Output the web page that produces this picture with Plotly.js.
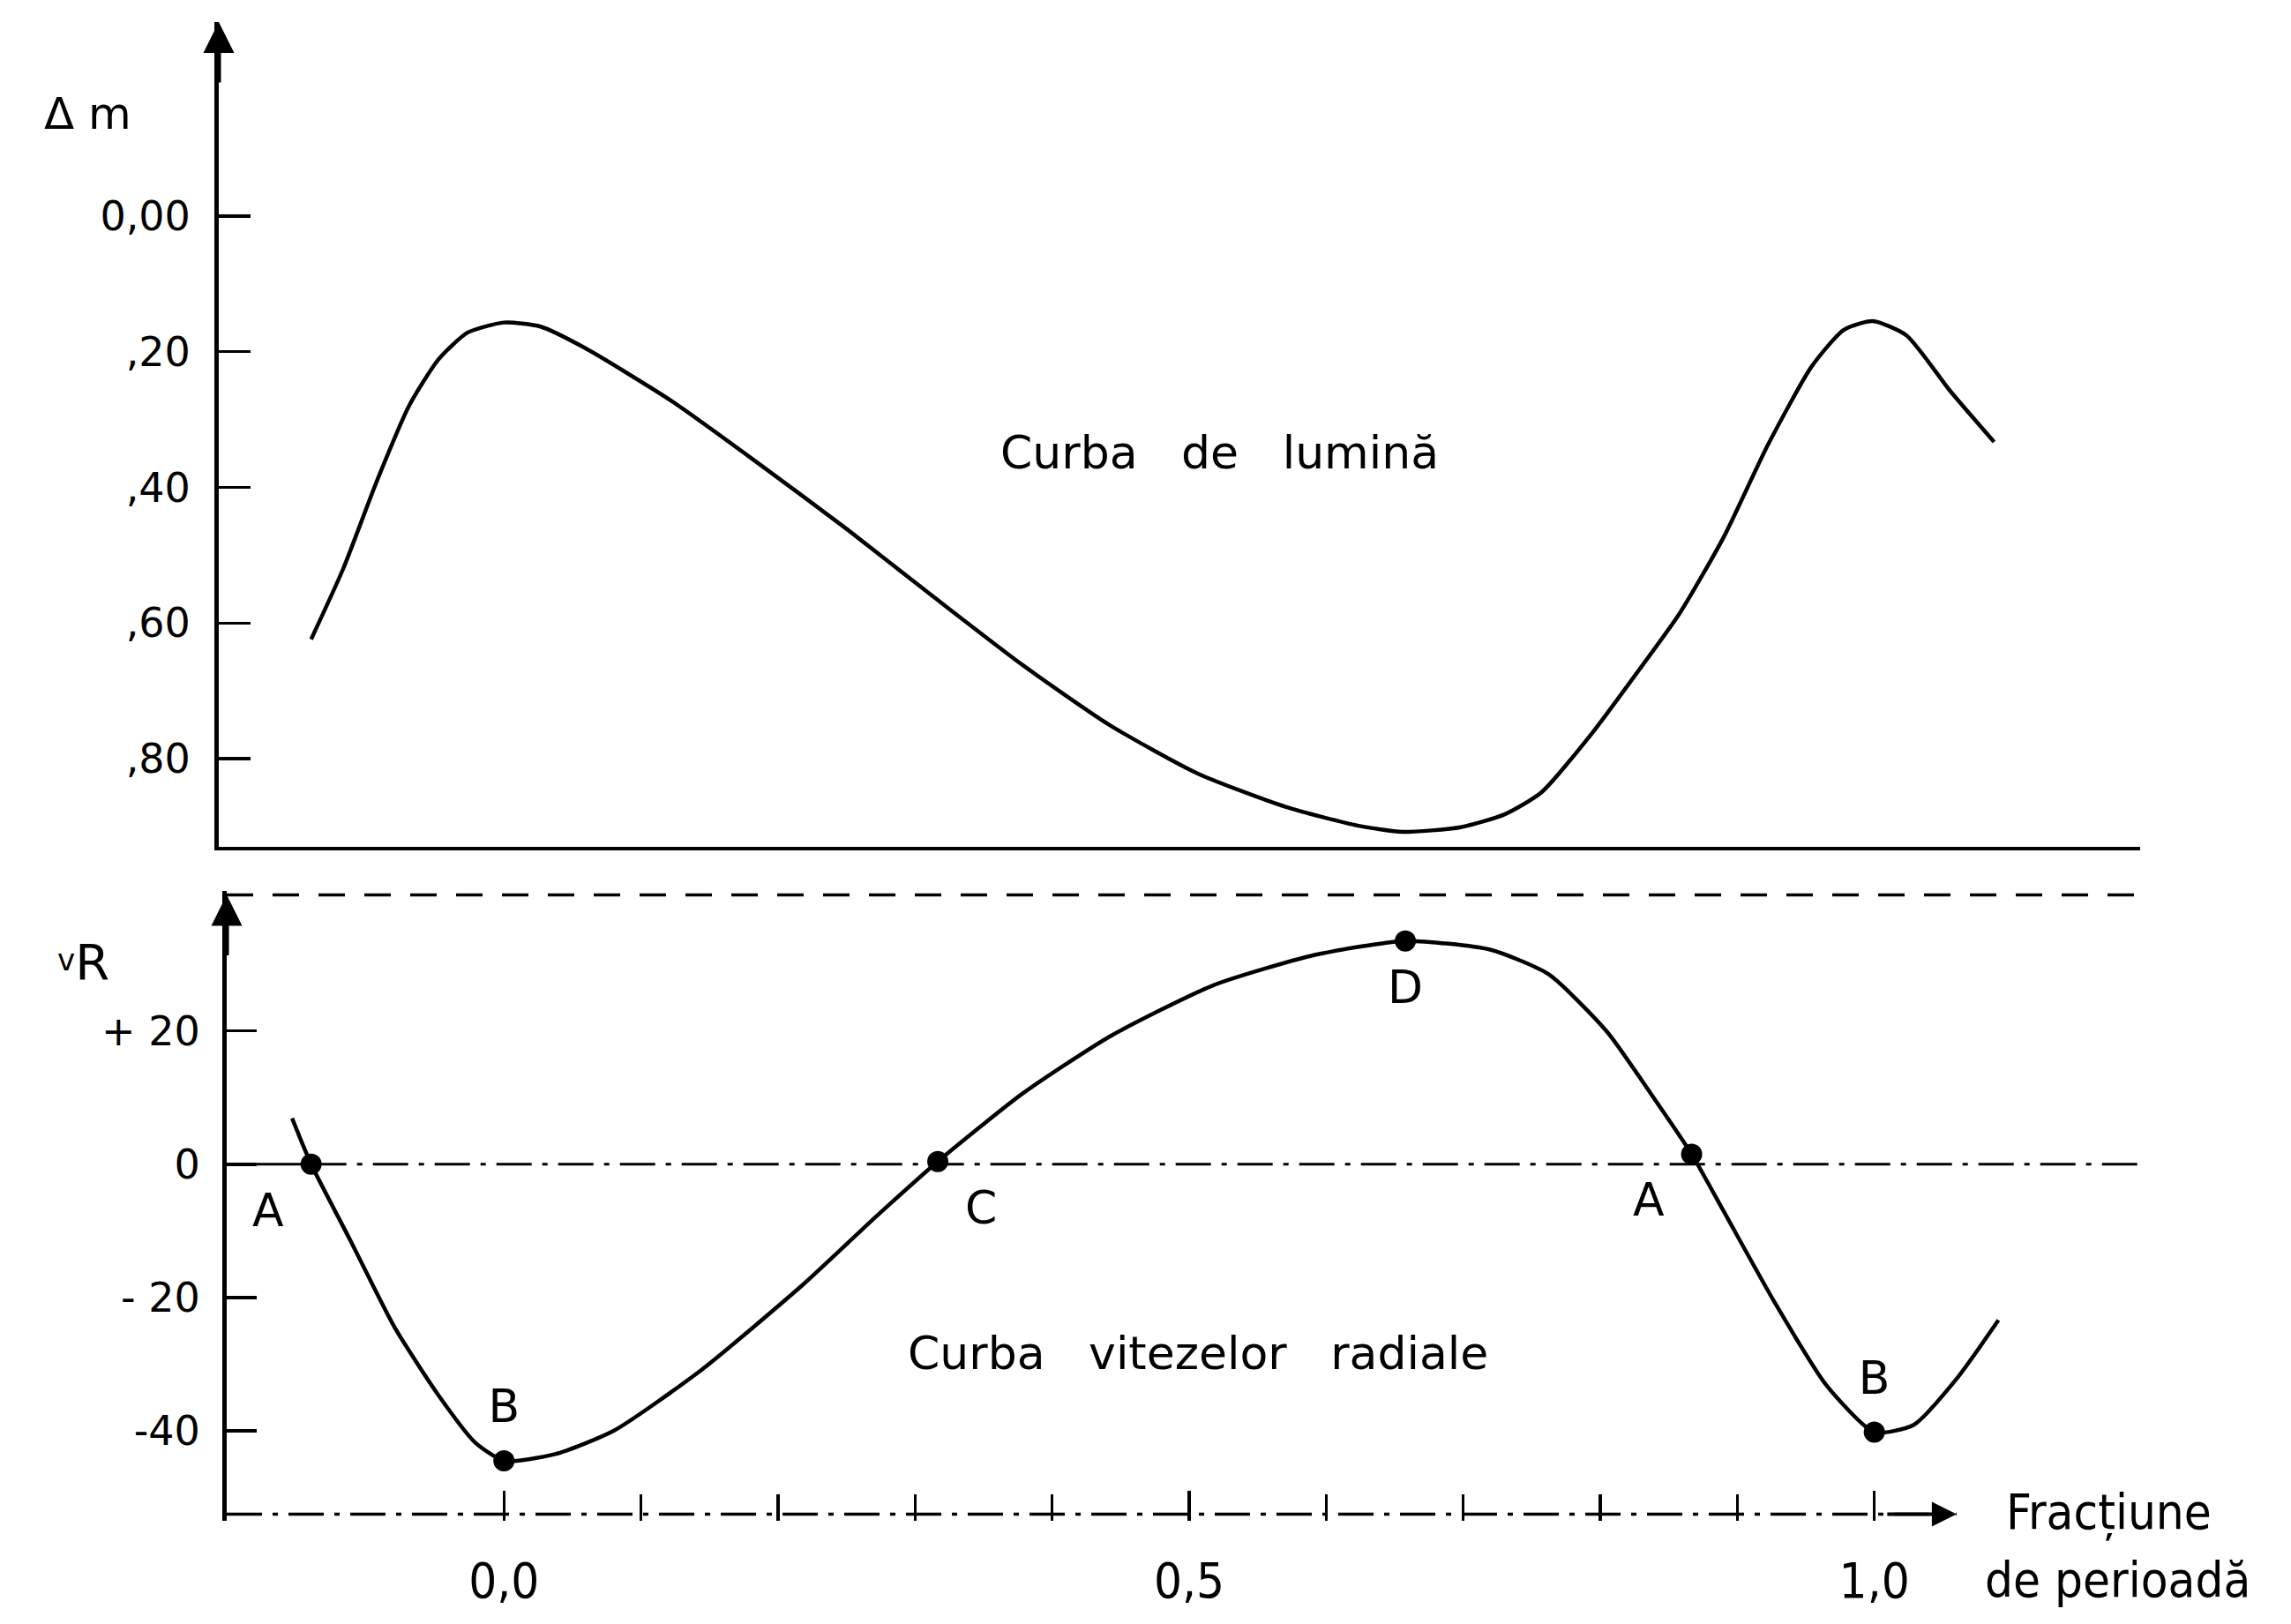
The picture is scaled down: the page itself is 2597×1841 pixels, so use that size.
<!DOCTYPE html>
<html>
<head>
<meta charset="utf-8">
<script src="https://cdn.plot.ly/plotly-3.0.1.min.js"></script>
<style>
  html, body { margin: 0; padding: 0; background: #fff; }
  #graph { width: 2597px; height: 1841px; }
</style>
</head>
<body>
<div id="graph"></div>
<script>
// Light curve (magnitude, axis reversed) vs phase
const phaseLight = [-0.1407, -0.1173, -0.0928, -0.0693, -0.0480, -0.0267, 0.0, 0.0267, 0.0586,
    0.1226, 0.1866, 0.2505, 0.3145, 0.3785, 0.4424, 0.5064, 0.5704, 0.6237, 0.6557, 0.6983,
    0.7303, 0.7569, 0.7942, 0.8262, 0.8582, 0.8902, 0.9222, 0.9542, 0.9776, 0.9989, 1.0235,
    1.0554, 1.0874];
const magLight = [0.624, 0.520, 0.391, 0.280, 0.212, 0.172, 0.157, 0.163, 0.194,
    0.273, 0.366, 0.462, 0.563, 0.662, 0.751, 0.822, 0.871, 0.899, 0.908, 0.901,
    0.882, 0.850, 0.762, 0.675, 0.585, 0.473, 0.338, 0.222, 0.168, 0.155, 0.176,
    0.258, 0.333];

// Radial velocity curve vs phase
const phaseVel = [-0.1546, -0.1407, -0.1119, -0.0800, -0.0480, -0.0213, 0.0, 0.0373, 0.0800,
    0.1439, 0.2186, 0.2719, 0.3166, 0.3785, 0.4424, 0.5171, 0.5917, 0.6578, 0.7196, 0.7623,
    0.8049, 0.8369, 0.8667, 0.8902, 0.9275, 0.9648, 1.0, 1.0288, 1.0608, 1.0906];
const velocity = [6.9, 0, -11.5, -24.4, -34.6, -41.7, -44.5, -43.5, -40.0,
    -30.9, -18.0, -7.8, 0.4, 10.6, 19.2, 26.8, 31.4, 33.5, 32.2, 28.5,
    19.9, 10.6, 1.5, -7.1, -20.8, -33.1, -40.2, -39.1, -32.0, -23.4];

// Marked points on the velocity curve
const keyPhase = [-0.1407, 0.0, 0.3166, 0.6578, 0.8667, 1.0];
const keyVel = [0, -44.5, 0.4, 33.5, 1.5, -40.2];
const keyLabels = ['A', 'B', 'C', 'D', 'A', 'B'];
const keyTextPos = ['bottom left', 'top center', 'bottom right', 'bottom center', 'bottom left', 'top center'];

// Axis ticks
const magTicks = [0, 0.2, 0.4, 0.6, 0.8];
const magTickText = ['0,00', ',20', ',40', ',60', ',80'];
const velTicks = [-40, -20, 0, 20];
const velTickText = ['-40', '- 20', '0', '+ 20'];
const phaseTicks = [0, 0.5, 1.0];
const phaseTickText = ['0,0', '0,5', '1,0'];
const phaseMinorTicks = [0.1, 0.2, 0.3, 0.4, 0.6, 0.7, 0.8, 0.9];

// Extents of the drawn guide lines
const xLeft = -0.2023, xRight = 1.194, xArrowEnd = 1.06;
const velBottom = -52.5, velTop = 40.4;
const magBottom = 0.93, magTop = -0.286;

const ink = '#000';
const fontMain = 'DejaVu Sans, Liberation Sans, sans-serif';
const fontNarrow = 'Liberation Sans Narrow, DejaVu Sans Condensed, DejaVu Sans, sans-serif';

let data = [
    { // light curve
        x: phaseLight, y: magLight, xaxis: 'x2', yaxis: 'y2',
        mode: 'lines', line: {color: ink, width: 4.5, shape: 'spline', smoothing: 0.6},
        hoverinfo: 'skip'
    },
    { // velocity curve
        x: phaseVel, y: velocity, xaxis: 'x', yaxis: 'y',
        mode: 'lines', line: {color: ink, width: 4.5, shape: 'spline', smoothing: 0.6},
        hoverinfo: 'skip'
    },
    { // zero line, solid part before A
        x: [xLeft, keyPhase[0]], y: [0, 0], xaxis: 'x', yaxis: 'y',
        mode: 'lines', line: {color: ink, width: 3}, hoverinfo: 'skip'
    },
    { // zero line, dash-dot after A
        x: [keyPhase[0], xRight], y: [0, 0], xaxis: 'x', yaxis: 'y',
        mode: 'lines', line: {color: ink, width: 3, dash: '40px,12px,6px,12px'}, hoverinfo: 'skip'
    },
    { // dashed separator at top of the lower panel
        x: [xLeft, xRight], y: [velTop, velTop], xaxis: 'x', yaxis: 'y',
        mode: 'lines', line: {color: ink, width: 3.5, dash: '30px,22px'}, hoverinfo: 'skip'
    },
    { // dash-dot phase axis
        x: [xLeft, xArrowEnd], y: [velBottom, velBottom], xaxis: 'x', yaxis: 'y',
        mode: 'lines', line: {color: ink, width: 3.5, dash: '40px,12px,6px,12px'}, hoverinfo: 'skip'
    },
    { // marked points
        x: keyPhase, y: keyVel, xaxis: 'x', yaxis: 'y',
        mode: 'markers', marker: {color: ink, size: 24}, hoverinfo: 'skip'
    },
    { // point labels (invisible big markers push the text out)
        x: keyPhase, y: keyVel, xaxis: 'x', yaxis: 'y',
        mode: 'markers+text', text: keyLabels, textposition: keyTextPos,
        marker: {size: 48, color: 'rgba(0,0,0,0)'},
        textfont: {family: fontMain, size: 52, color: ink},
        hoverinfo: 'skip'
    }
];

let layout = {
    width: 2597, height: 1841,
    margin: {l: 0, r: 0, t: 0, b: 0},
    paper_bgcolor: '#fff', plot_bgcolor: 'rgba(0,0,0,0)',
    showlegend: false,
    font: {family: fontMain, color: ink, size: 46},
    xaxis: { // phase axis of the velocity panel
        domain: [257 / 2597, 2426 / 2597], range: [xLeft, xRight], anchor: 'y',
        showgrid: false, zeroline: false, showline: false,
        tickmode: 'array', tickvals: phaseTicks, ticktext: phaseTickText,
        ticks: 'inside', ticklen: 34, tickwidth: 3.5, tickcolor: ink,
        minor: {tickmode: 'array', tickvals: phaseMinorTicks, ticks: 'inside',
                ticklen: 30, tickwidth: 3.5, tickcolor: ink, showgrid: false},
        ticklabelstandoff: 30,
        tickfont: {family: fontNarrow, size: 56, color: ink}
    },
    yaxis: {
        domain: [1 - 1724 / 1841, 1 - 1010 / 1841], range: [-53.5, 41], anchor: 'x',
        showgrid: false, zeroline: false, showline: true, linecolor: ink, linewidth: 5,
        tickmode: 'array', tickvals: velTicks, ticktext: velTickText,
        ticks: 'inside', ticklen: 34, tickwidth: 3.5, tickcolor: ink,
        ticklabelstandoff: 16,
        tickfont: {family: fontMain, size: 46, color: ink}
    },
    xaxis2: { // same phase scale for the light-curve panel
        domain: [248 / 2597, 2426 / 2597], range: [-0.2081, xRight], anchor: 'y2',
        showgrid: false, zeroline: false, showline: true, linecolor: ink, linewidth: 4,
        showticklabels: false, ticks: ''
    },
    yaxis2: {
        domain: [1 - 960 / 1841, 1 - 25 / 1841], range: [magBottom, magTop], anchor: 'x2',
        showgrid: false, zeroline: false, showline: true, linecolor: ink, linewidth: 5,
        tickmode: 'array', tickvals: magTicks, ticktext: magTickText,
        ticks: 'inside', ticklen: 36, tickwidth: 3.5, tickcolor: ink,
        ticklabelstandoff: 18,
        tickfont: {family: fontMain, size: 46, color: ink}
    },
    annotations: [
        // axis arrow heads
        {xref: 'x2', yref: 'y2', x: -0.2081, y: magTop, ax: 0, ay: 70, text: '',
         showarrow: true, arrowhead: 2, arrowsize: 1.4, arrowwidth: 5, arrowcolor: ink, standoff: 0},
        {xref: 'x', yref: 'y', x: xLeft, y: velTop, ax: 0, ay: 70, text: '',
         showarrow: true, arrowhead: 2, arrowsize: 1.4, arrowwidth: 5, arrowcolor: ink, standoff: 0},
        {xref: 'x', yref: 'y', x: xArrowEnd, y: velBottom, ax: -80, ay: 0, text: '',
         showarrow: true, arrowhead: 2, arrowsize: 1.4, arrowwidth: 4, arrowcolor: ink, standoff: 0},
        // axis names
        {xref: 'paper', yref: 'paper', x: 99 / 2597, y: 1 - 129 / 1841, showarrow: false,
         xanchor: 'center', yanchor: 'middle',
         text: 'Δ m', font: {family: fontMain, size: 50, color: ink}},
        {xref: 'paper', yref: 'paper', x: 94 / 2597, y: 1 - 1090 / 1841, showarrow: false,
         xanchor: 'center', yanchor: 'middle',
         text: "<span style='font-size:34px'>v</span><sub><span style='font-size:56px'>R</span></sub>",
         font: {family: fontMain, size: 50, color: ink}},
        {xref: 'paper', yref: 'paper', x: 2390 / 2597, y: 1 - 1714 / 1841, showarrow: false,
         xanchor: 'center', yanchor: 'middle',
         text: 'Fracțiune', font: {family: fontNarrow, size: 56, color: ink}},
        {xref: 'paper', yref: 'paper', x: 2400 / 2597, y: 1 - 1790 / 1841, showarrow: false,
         xanchor: 'center', yanchor: 'middle',
         text: 'de perioadă', font: {family: fontNarrow, size: 56, color: ink}},
        // curve names
        {xref: 'x2', yref: 'y2', x: 0.5224, y: 0.3484, showarrow: false,
         xanchor: 'center', yanchor: 'middle',
         text: 'Curba\u00a0\u00a0\u00a0de\u00a0\u00a0\u00a0lumină', font: {family: fontMain, size: 52, color: ink}},
        {xref: 'x', yref: 'y', x: 0.5064, y: -28.3, showarrow: false,
         xanchor: 'center', yanchor: 'middle',
         text: 'Curba\u00a0\u00a0\u00a0vitezelor\u00a0\u00a0\u00a0radiale', font: {family: fontMain, size: 52, color: ink}}
    ]
};

Plotly.newPlot('graph', data, layout, {staticPlot: true});
</script>
</body>
</html>
